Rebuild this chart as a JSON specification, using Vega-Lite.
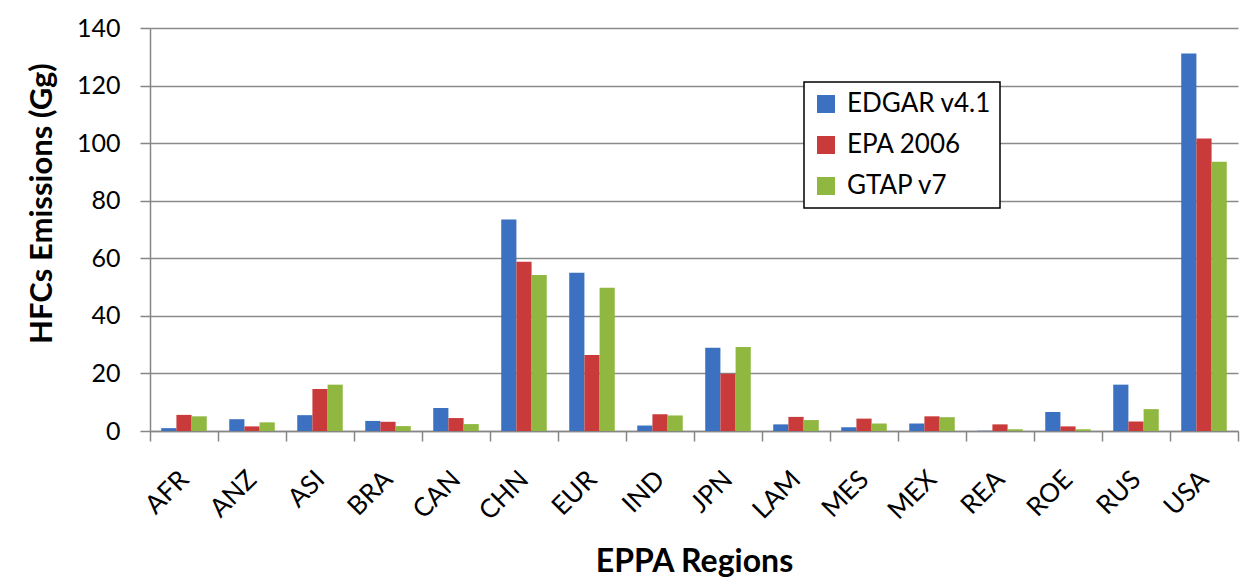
{
  "$schema": "https://vega.github.io/schema/vega-lite/v6.json",
  "width": 1088,
  "height": 403,
  "autosize": "none",
  "padding": {"left": 150, "top": 28, "right": 8, "bottom": 148},
  "background": "white",
  "config": {
    "font": "Lato",
    "view": {"stroke": null},
    "axis": {"labelColor": "#000000", "titleColor": "#000000"},
    "legend": {"strokeWidth": 1.5}
  },
  "data": {
    "values": [
      {"region": "AFR", "source": "EDGAR v4.1", "value": 1.0},
      {"region": "AFR", "source": "EPA 2006", "value": 5.6},
      {"region": "AFR", "source": "GTAP v7", "value": 5.1},
      {"region": "ANZ", "source": "EDGAR v4.1", "value": 4.1},
      {"region": "ANZ", "source": "EPA 2006", "value": 1.6},
      {"region": "ANZ", "source": "GTAP v7", "value": 3.0},
      {"region": "ASI", "source": "EDGAR v4.1", "value": 5.5},
      {"region": "ASI", "source": "EPA 2006", "value": 14.6},
      {"region": "ASI", "source": "GTAP v7", "value": 16.1},
      {"region": "BRA", "source": "EDGAR v4.1", "value": 3.5},
      {"region": "BRA", "source": "EPA 2006", "value": 3.2},
      {"region": "BRA", "source": "GTAP v7", "value": 1.7},
      {"region": "CAN", "source": "EDGAR v4.1", "value": 8.0},
      {"region": "CAN", "source": "EPA 2006", "value": 4.5},
      {"region": "CAN", "source": "GTAP v7", "value": 2.4},
      {"region": "CHN", "source": "EDGAR v4.1", "value": 73.5},
      {"region": "CHN", "source": "EPA 2006", "value": 58.8},
      {"region": "CHN", "source": "GTAP v7", "value": 54.2},
      {"region": "EUR", "source": "EDGAR v4.1", "value": 55.0},
      {"region": "EUR", "source": "EPA 2006", "value": 26.4},
      {"region": "EUR", "source": "GTAP v7", "value": 49.8},
      {"region": "IND", "source": "EDGAR v4.1", "value": 1.9},
      {"region": "IND", "source": "EPA 2006", "value": 5.8},
      {"region": "IND", "source": "GTAP v7", "value": 5.4},
      {"region": "JPN", "source": "EDGAR v4.1", "value": 28.9},
      {"region": "JPN", "source": "EPA 2006", "value": 19.9},
      {"region": "JPN", "source": "GTAP v7", "value": 29.2},
      {"region": "LAM", "source": "EDGAR v4.1", "value": 2.3},
      {"region": "LAM", "source": "EPA 2006", "value": 4.9},
      {"region": "LAM", "source": "GTAP v7", "value": 3.8},
      {"region": "MES", "source": "EDGAR v4.1", "value": 1.3},
      {"region": "MES", "source": "EPA 2006", "value": 4.3},
      {"region": "MES", "source": "GTAP v7", "value": 2.6},
      {"region": "MEX", "source": "EDGAR v4.1", "value": 2.6},
      {"region": "MEX", "source": "EPA 2006", "value": 5.1},
      {"region": "MEX", "source": "GTAP v7", "value": 4.8},
      {"region": "REA", "source": "EDGAR v4.1", "value": 0.1},
      {"region": "REA", "source": "EPA 2006", "value": 2.3},
      {"region": "REA", "source": "GTAP v7", "value": 0.6},
      {"region": "ROE", "source": "EDGAR v4.1", "value": 6.6},
      {"region": "ROE", "source": "EPA 2006", "value": 1.6},
      {"region": "ROE", "source": "GTAP v7", "value": 0.6},
      {"region": "RUS", "source": "EDGAR v4.1", "value": 16.1},
      {"region": "RUS", "source": "EPA 2006", "value": 3.3},
      {"region": "RUS", "source": "GTAP v7", "value": 7.6},
      {"region": "USA", "source": "EDGAR v4.1", "value": 131.1},
      {"region": "USA", "source": "EPA 2006", "value": 101.6},
      {"region": "USA", "source": "GTAP v7", "value": 93.5}
    ]
  },
  "mark": {"type": "bar", "strokeWidth": 0},
  "encoding": {
    "x": {
      "field": "region",
      "type": "nominal",
      "sort": null,
      "scale": {"paddingInner": 0, "paddingOuter": 0},
      "axis": {
        "title": "EPPA Regions",
        "titleFontSize": 32,
        "titleFontWeight": "bold",
        "titleBaseline": "alphabetic",
        "titleY": 140,
        "labelAngle": -45,
        "labelAlign": "right",
        "labelBaseline": "middle",
        "labelFontSize": 26,
        "labelPadding": 34,
        "tickBand": "extent",
        "tickSize": 10,
        "tickColor": "#868686",
        "tickWidth": 1.5,
        "domainColor": "#868686",
        "domainWidth": 1.5,
        "grid": false
      }
    },
    "xOffset": {
      "field": "source",
      "type": "nominal",
      "scale": {"paddingInner": 0, "paddingOuter": 0.74}
    },
    "y": {
      "field": "value",
      "type": "quantitative",
      "scale": {"domain": [0, 140], "nice": false},
      "axis": {
        "title": "HFCs Emissions (Gg)",
        "titleFontSize": 31,
        "titleFontWeight": "bold",
        "titleAngle": -90,
        "titleBaseline": "middle",
        "titleAlign": "center",
        "titleX": -108,
        "titleY": 175,
        "values": [0, 20, 40, 60, 80, 100, 120, 140],
        "labelFontSize": 25,
        "labelPadding": 20,
        "tickSize": 10,
        "tickColor": "#868686",
        "tickWidth": 1.5,
        "domainColor": "#868686",
        "domainWidth": 1.5,
        "grid": true,
        "gridColor": "#8a8a8a",
        "gridWidth": 1.5
      }
    },
    "color": {
      "field": "source",
      "type": "nominal",
      "scale": {
        "domain": ["EDGAR v4.1", "EPA 2006", "GTAP v7"],
        "range": ["#3b71c0", "#c93b3b", "#90b740"]
      },
      "legend": {
        "title": null,
        "orient": "none",
        "legendX": 654,
        "legendY": 54,
        "symbolType": "square",
        "symbolSize": 324,
        "symbolStrokeWidth": 0,
        "labelFontSize": 26,
        "labelColor": "#000000",
        "labelOffset": 8,
        "rowPadding": 15,
        "padding": 9,
        "strokeColor": "#000000",
        "fillColor": "#ffffff"
      }
    }
  }
}
